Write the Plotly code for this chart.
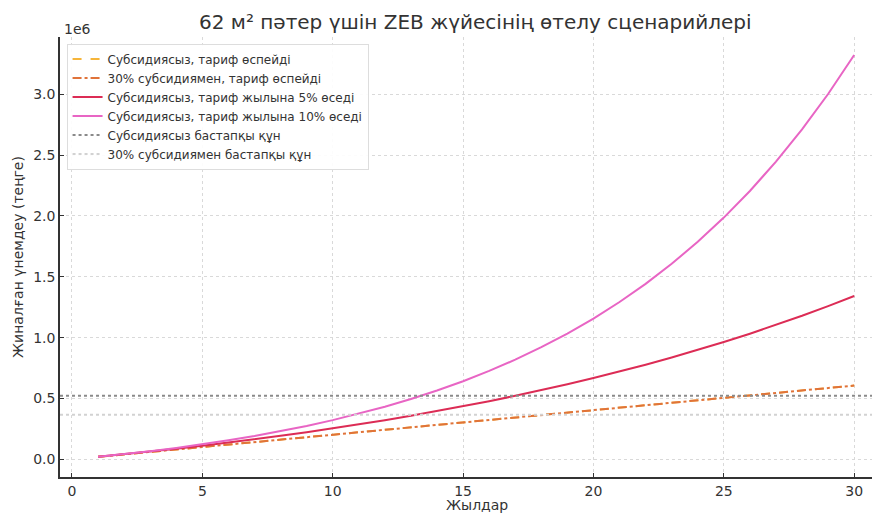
import plotly.graph_objects as go

years = list(range(1, 31))
no_growth = [20200, 40400, 60600, 80800, 101000, 121200, 141400, 161600, 181800, 202000,
             222200, 242400, 262600, 282800, 303000, 323200, 343400, 363600, 383800, 404000,
             424200, 444400, 464600, 484800, 505000, 525200, 545400, 565600, 585800, 606000]
sub30_no_growth = list(no_growth)
growth5 = [20200, 41410, 63680, 87065, 111618, 137398, 164468, 192892, 222736, 254074,
           286977, 321526, 357803, 395893, 435887, 477882, 521975, 568274, 616888, 667932,
           721529, 777806, 836896, 898940, 964087, 1032492, 1104317, 1179733, 1258919, 1342065]
growth10 = [20200, 42420, 66862, 93748, 123123, 155855, 191640, 231005, 274306, 321935,
            374329, 431963, 495359, 565095, 641805, 726185, 819003, 921104, 1033414, 1156955,
            1292851, 1442336, 1606769, 1787645, 1986610, 2205471, 2446219, 2711041, 3002345, 3322779]
cost_no_sub = 523000
cost_sub30 = 366100

names = ["Субсидиясыз, тариф өспейді",
         "30% субсидиямен, тариф өспейді",
         "Субсидиясыз, тариф жылына 5% өседі",
         "Субсидиясыз, тариф жылына 10% өседі",
         "Субсидиясыз бастапқы құн",
         "30% субсидиямен бастапқы құн"]

x_ticks = [0, 5, 10, 15, 20, 25, 30]
y_ticks = [0, 500000, 1000000, 1500000, 2000000, 2500000, 3000000]
y_tick_text = ["0.0", "0.5", "1.0", "1.5", "2.0", "2.5", "3.0"]

title = "62 м² пәтер үшін ZEB жүйесінің өтелу сценарийлері"
x_title = "Жылдар"
y_title = "Жиналған үнемдеу (теңге)"

FONT = "DejaVu Sans"
fig = go.Figure()
fig.add_trace(go.Scatter(x=years, y=no_growth, mode="lines", name=names[0],
                         line=dict(color="#f6b53a", width=2, dash="dash")))
fig.add_trace(go.Scatter(x=years, y=sub30_no_growth, mode="lines", name=names[1],
                         line=dict(color="#e0733a", width=2, dash="dashdot")))
fig.add_trace(go.Scatter(x=years, y=growth5, mode="lines", name=names[2],
                         line=dict(color="#dc2c55", width=2)))
fig.add_trace(go.Scatter(x=years, y=growth10, mode="lines", name=names[3],
                         line=dict(color="#e865c4", width=2)))

fig.add_shape(type="line", xref="paper", x0=0, x1=1, yref="y", y0=cost_no_sub, y1=cost_no_sub,
              line=dict(color="#8a8a8a", width=2, dash="dot"), showlegend=True, name=names[4],
              legendrank=1005)
fig.add_shape(type="line", xref="paper", x0=0, x1=1, yref="y", y0=cost_sub30, y1=cost_sub30,
              line=dict(color="#d2d2d2", width=2, dash="dot"), showlegend=True, name=names[5],
              legendrank=1006)

axis_common = dict(showline=True, linecolor="#333333", linewidth=1.5, ticks="inside",
                   ticklen=4, tickcolor="#333333", showgrid=True, gridcolor="#d9d9d9",
                   griddash="dot", gridwidth=1, zeroline=False,
                   tickfont=dict(family=FONT, size=14, color="#333333"), mirror=False)

# page body has an 8px margin, so the figure is shifted by 8px right and down
W, H = 872, 506
L, T, B = 52, 29, 37
PW = W - L

fig.update_layout(
    width=W, height=H,
    margin=dict(l=L, r=0, t=T, b=B, autoexpand=False),
    paper_bgcolor="white", plot_bgcolor="white",
    font=dict(family=FONT, color="#333333"),
    showlegend=True,
    legend=dict(x=0.008, y=0.985, xanchor="left", yanchor="top",
                bgcolor="rgba(255,255,255,0.9)", bordercolor="#dddddd", borderwidth=1,
                font=dict(family=FONT, size=12, color="#333333"),
                tracegroupgap=0),
    xaxis=dict(range=[-0.46, 30.99], tickvals=x_ticks, automargin=False, **axis_common),
    yaxis=dict(range=[-145500, 3471000], tickvals=y_ticks, ticktext=y_tick_text,
               automargin=False, **axis_common),
    annotations=[
        dict(text=title, xref="paper", yref="paper", x=(475 - 60) / PW, y=1.0, yshift=15,
             xanchor="center", yanchor="middle", showarrow=False,
             font=dict(family=FONT, size=20, color="#333333")),
        dict(text="1e6", xref="paper", yref="paper", x=0, y=1.0, xshift=2, yshift=8,
             xanchor="left", yanchor="middle", showarrow=False,
             font=dict(family=FONT, size=14, color="#333333")),
        dict(text=x_title, xref="paper", yref="paper", x=(477 - 60) / PW, y=0, yshift=-28,
             xanchor="center", yanchor="middle", showarrow=False,
             font=dict(family=FONT, size=14, color="#333333")),
        dict(text=y_title, xref="paper", yref="paper", x=0, xshift=-42, y=0.5,
             xanchor="center", yanchor="middle", textangle=-90, showarrow=False,
             font=dict(family=FONT, size=14, color="#333333")),
    ],
)

fig.write_html("out.html")
